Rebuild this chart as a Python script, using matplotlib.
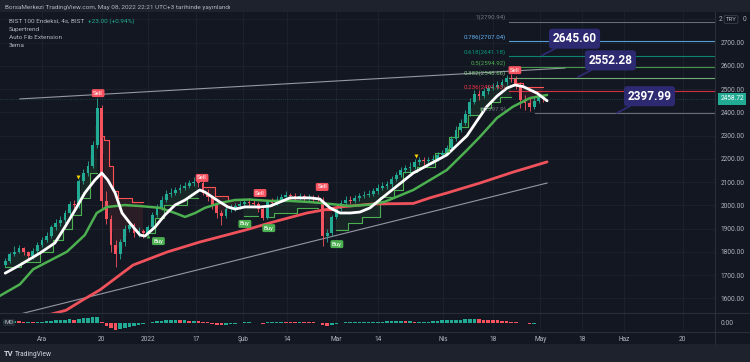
import numpy as np
import matplotlib.pyplot as plt
from matplotlib.patches import Rectangle
from matplotlib.lines import Line2D

plt.rcParams['font.family'] = ['Roboto', 'DejaVu Sans']

BG = '#131722'
PANEL = '#1e222d'
TXT = '#b2b5be'
GRID = '#1d212c'
UP = '#22ab94'
DN = '#f7525f'

# ---- data (daily bars, index 0 = 1 Dec 2021) ----
first_open = 1745
closes = [1760, 1790, 1800, 1815, 1800, 1780, 1805, 1830,
          1850, 1870, 1905, 1925, 1935, 1965, 2005, 2000, 2105, 2140,
          2170, 2260, 2420, 2020, 1940, 1830, 1790, 1840, 1900, 1915,
          1880, 1890, 1880, 1905, 1960, 1990, 2025, 2050, 2055, 2065,
          2075, 2085, 2095, 2100, 2095, 2055, 2035, 2000, 1965, 1955,
          1985, 1990, 1995, 2005, 2015, 2010, 2005, 1985, 1945, 2015,
          2010, 2025, 2035, 2045, 2040, 2035, 2040, 2030, 2035, 2030,
          2025, 1870, 1880, 1950, 1985, 2010, 2025, 2020, 2030, 2040,
          2045, 2050, 2060, 2075, 2085, 2090, 2115, 2130, 2150, 2160,
          2165, 2185, 2195, 2190, 2195, 2200, 2215, 2225, 2245, 2285,
          2325, 2355, 2395, 2445, 2480, 2470, 2490, 2505, 2510, 2520,
          2530, 2550, 2545, 2520, 2455, 2440, 2425, 2450, 2465, 2459]
highs = [1775, 1800, 1825, 1830, 1820, 1805, 1815, 1840,
         1865, 1885, 1915, 1940, 1955, 1980, 2020, 2025, 2115, 2155,
         2190, 2275, 2460, 2430, 2060, 1960, 1850, 1855, 1915, 1935,
         1925, 1905, 1900, 1915, 1970, 2005, 2040, 2065, 2075, 2080,
         2090, 2100, 2110, 2120, 2115, 2105, 2070, 2045, 2010, 1980,
         1995, 2005, 2010, 2020, 2030, 2030, 2025, 2015, 1995, 2025,
         2030, 2040, 2050, 2060, 2055, 2055, 2055, 2050, 2050, 2045,
         2045, 2035, 1900, 1960, 1995, 2025, 2040, 2040, 2045, 2055,
         2060, 2065, 2075, 2090, 2100, 2105, 2125, 2145, 2165, 2175,
         2185, 2200, 2210, 2210, 2210, 2215, 2230, 2240, 2260, 2300,
         2340, 2370, 2410, 2460, 2495, 2495, 2505, 2520, 2525, 2535,
         2545, 2560, 2565, 2555, 2530, 2475, 2460, 2465, 2480, 2475]
lows = [1735, 1750, 1780, 1795, 1785, 1765, 1770, 1795,
        1820, 1840, 1860, 1895, 1910, 1925, 1955, 1975, 1990, 2090,
        2125, 2160, 2245, 1990, 1920, 1800, 1735, 1770, 1825, 1885,
        1865, 1865, 1860, 1870, 1895, 1950, 1980, 2015, 2035, 2045,
        2055, 2065, 2075, 2085, 2080, 2045, 2020, 1985, 1945, 1915,
        1945, 1970, 1975, 1985, 1995, 1995, 1990, 1970, 1935, 1940,
        1995, 2000, 2015, 2025, 2025, 2020, 2025, 2015, 2020, 2015,
        2010, 1825, 1840, 1870, 1940, 1975, 2000, 2005, 2010, 2020,
        2030, 2035, 2040, 2050, 2065, 2070, 2080, 2105, 2120, 2140,
        2145, 2155, 2175, 2175, 2175, 2180, 2190, 2205, 2215, 2235,
        2275, 2315, 2345, 2385, 2435, 2455, 2460, 2480, 2495, 2500,
        2510, 2520, 2530, 2500, 2420, 2410, 2405, 2415, 2440, 2445]
mo = [1.5, 2, 2, 1.5, 1, 1, 0.5, 0.5,
      1, 1.5, 2, 2.5, 3, 3, 3.5, 3, 4, 4.5,
      5, 5.5, 6, 1, -3, -5, -7, -6.5, -5, -4,
      -3, -2, -1, 0, 1, 1.5, 2, 2.5, 3, 3,
      2.5, 2.5, 2, 2, 1.5, 1, 0.5, -1, -2, -2.5,
      -2, -1.5, -1, -0.5, 0.5, 0.5, 0, -0.5, -1, 0.5,
      1, 1, 1, 0.8, 0.6, 0.5, 0.5, 0.4, 0.3, 0.2,
      0, -2.5, -3.5, -2, -1, 0, 0.5, 0.8, 1, 1,
      1, 1, 1, 1, 1, 1.2, 1.2, 1.2, 1.3, 1.2,
      1.2, 1, 1, 1, 1, 1.5, 2, 2.5, 2.5, 3,
      3, 3, 3.2, 3.5, 3.5, 3.2, 3, 2.8, 2.5, 2.2,
      2, 1.5, 1, 0.5, 0, -0.5, -1, -1, -0.8, -0.5]

# 3 ema lines (bar index, price)
ema_fast_x = [-8, -4.8, -0.4, 2.8, 5.0, 7.2, 9.3, 11.5, 13.0, 14.3, 15.9, 17.4, 19.1, 21.3, 22.4,
              24.6, 26.7, 28.9, 31.1, 33.3, 34.3, 35.4, 37.0, 38.7, 40.4, 42.0, 44.1, 47.4, 49.6,
              51.7, 53.9, 58.3, 60.4, 62.6, 64.8, 67.0, 69.1, 71.3, 73.5, 80.7, 88.0, 92.4, 94.6,
              96.7, 98.9, 101.1, 102.8, 104.6, 107.6, 109.8]
ema_fast_y = [1708, 1743, 1795, 1838, 1907, 1980, 2053, 2109, 2139, 2109, 2053, 1967, 1924, 1872, 1868,
              1907, 1958, 2001, 2023, 2053, 2066, 2057, 2036, 2014, 1993, 1984, 1993, 1993, 1997,
              2014, 2032, 2032, 2027, 1989, 1967, 1967, 1971, 1989, 2025, 2139, 2217, 2300, 2365,
              2425, 2470, 2505, 2518, 2511, 2483, 2450]
ema_mid_x = [-9.2, -4.8, -1.9, 5.4, 9.3, 11.9, 14.1, 18.0, 21.3, 25.7, 28.9, 31.1, 33.3, 35.4, 38.7,
             42.0, 45.2, 49.6, 53.9, 58.3, 62.6, 67.0, 71.3, 74.6, 80.7, 88.0, 92.4, 95.2, 98.9,
             102.4, 106.1, 109.8]
ema_mid_y = [1610, 1660, 1725, 1800, 1872, 1967, 1993, 2001, 1997, 1989, 1967, 1950, 1967, 1989, 2010,
             2023, 2025, 2019, 2019, 2014, 2006, 1997, 2003, 2016, 2066, 2152, 2238, 2295, 2376,
             2425, 2462, 2475]
ema_slow_x = [0.7, 5.2, 8.9, 12.6, 19.8, 27.2, 34.3, 44.1, 50.2, 57.6, 64.8, 72.0, 80.7, 84.3, 88.0,
              95.2, 102.4, 109.8]
ema_slow_y = [1525, 1548, 1593, 1636, 1743, 1799, 1842, 1893, 1928, 1967, 1993, 2006, 2008, 2032, 2053,
              2096, 2143, 2187]

# supertrend steps: start bar, level, direction (1 up / -1 down)
st_start = [-8, -4, 0, 3, 5, 7, 9, 11, 13, 14, 15, 16, 17, 20, 23, 25, 27, 32, 35, 38, 41, 44, 48,
            49, 51, 56, 61, 64, 67, 70, 74, 77, 79, 82, 86, 89, 91, 93, 96, 98, 100, 103, 105]
st_level = [1735, 1755, 1800, 1850, 1900, 1960, 2030, 2139, 2300, 2280, 2170, 2060, 2032, 2014,
            1880, 1945, 2000, 2030, 2080, 2040, 2025, 1955, 2020, 1950, 1965, 1990, 1980, 1893, 1924,
            1950, 2036, 2066, 2143, 2165, 2225, 2294, 2337, 2389, 2419, 2445, 2466, 2526, 2510]
st_dir = [1, 1, 1, 1, 1, 1, 1, 1, -1, -1, -1, -1, -1, -1, 1, 1, 1, 1, -1, -1, -1, 1, -1,
          1, 1, 1, -1, 1, 1, 1, 1, 1, 1, 1, 1, 1, 1, 1, 1, 1, 1, -1, -1]

sell_pts = [(12.2, 2483), (34.8, 2118), (47.4, 2053), (60.9, 2079), (102.8, 2582)]
buy_pts = [(25.3, 1846), (44.1, 1920), (49.3, 1902), (64.1, 1833)]

fib_ratio = ['1', '0.786', '0.618', '0.5', '0.382', '0.236', '0']
fib_value = [2790.94, 2707.04, 2641.18, 2594.92, 2548.66, 2491.43, 2397.9]
fib_color = ['#787b86', '#64b5f6', '#089981', '#4caf50', '#81c784', '#f23645', '#787b86']

trend_x = [(-4.8, 113.7), (-4.8, 109.8)]
trend_y = [(2458, 2591), (1532, 2096)]

callout_vals = [2645.60, 2552.28, 2397.99]
callout_x = [108.7, 116.5, 125.0]

last_price = 2458.72
price_ticks = list(range(1600, 2800, 100))
date_labels = ['Ara', '20', '2022', '17', 'Şub', '14', 'Mar', '14', 'Nis', '18', 'May', '18', 'Haz', '20']
date_pos = [0, 13.0, 23.0, 33.5, 43.7, 53.3, 63.9, 73.0, 87.2, 98.0, 108.3, 117.4, 126.5, 139.3]

# ---- figure ----
W, H = 750, 362
fig = plt.figure(figsize=(7.5, 3.62), dpi=100, facecolor=PANEL)


def fx(px):
    return px / W


def fy(py):
    return 1 - py / H


fig.patches.append(Rectangle((0, fy(344)), 1, 332 / H, transform=fig.transFigure,
                             fc=BG, ec='none', zorder=-10))

ax = fig.add_axes([0, fy(313), fx(715), 301 / H])
ax2 = fig.add_axes([0, fy(332), fx(715), 19 / H])
XL = (-9.13, 146.3)
for a in (ax, ax2):
    a.set_facecolor(BG)
    a.set_xlim(*XL)
    for s in a.spines.values():
        s.set_visible(False)
    a.set_xticks(date_pos)
    a.grid(True, color=GRID, lw=0.7)
    a.set_axisbelow(True)
    a.tick_params(length=0)

ax.set_ylim(1536.5, 2832.2)
ax.set_yticks(price_ticks)
ax.set_yticklabels([f'{v:.2f}' for v in price_ticks])
ax.yaxis.tick_right()
ax.tick_params(axis='y', labelsize=4.7, labelcolor=TXT, pad=4)
ax.tick_params(axis='x', labelbottom=False)
ax.axhline(2800, color=GRID, lw=0.7, zorder=0)

# separators
for y in (313, 332):
    fig.add_artist(Line2D([0, 1], [fy(y), fy(y)], color='#2a2e39', lw=0.8))
fig.add_artist(Line2D([fx(715), fx(715)], [fy(344), fy(12)], color='#2a2e39', lw=0.8))

bars = np.arange(-8, 110)
c = np.array(closes, float)
o = np.concatenate([[first_open], c[:-1]])
h = np.array(highs, float)
l = np.array(lows, float)
col = np.where(c >= o, UP, DN)

# trend lines
for tx, ty in zip(trend_x, trend_y):
    ax.plot(tx, ty, color='#9598a1', lw=0.8, zorder=2)

# last price line
ax.axhline(last_price, color=UP, lw=0.6, ls=':', alpha=0.4, zorder=1)

# supertrend
sidx = np.searchsorted(st_start, bars, side='right') - 1
st_b = np.array(st_level, float)[sidx]
dir_b = np.array(st_dir)[sidx]
mid = (o + c) / 2
breaks = np.where(np.diff(dir_b) != 0)[0] + 1
for run in np.split(np.arange(len(bars)), breaks):
    d = dir_b[run[0]]
    cc = '#4caf50' if d > 0 else '#ff5252'
    ax.plot(bars[run], st_b[run], drawstyle='steps-mid', color=cc, lw=0.8, zorder=3)
    ax.fill_between(bars[run], st_b[run], mid[run], step='mid', color=cc, alpha=0.1, lw=0, zorder=1)

# candles
ax.vlines(bars, l, h, colors=col, lw=0.6, zorder=4)
ax.bar(bars, np.maximum(np.abs(c - o), 3), bottom=np.minimum(o, c), width=0.62, color=col,
       lw=0, zorder=4)

# ema lines
ax.plot(ema_slow_x, ema_slow_y, color='#f0525c', lw=2, zorder=5, solid_capstyle='round')
ax.plot(ema_mid_x, ema_mid_y, color='#4caf50', lw=1.8, zorder=5, solid_capstyle='round')
ax.plot(ema_fast_x, ema_fast_y, color='white', lw=2, zorder=6, solid_capstyle='round')

# small markers
ax.scatter([7.8, 81.3], [2122, 2212], marker='v', s=8, color='#ffd600', lw=0, zorder=6)
ax.scatter([23.0, 88.3], [1868, 2238], marker='^', s=8, color='#4caf50', lw=0, zorder=6)

# buy / sell labels
for xi, p in sell_pts:
    ax.text(xi, p, 'Sell', fontsize=4.3, color='white', ha='center', va='center', zorder=8,
            bbox=dict(boxstyle='round,pad=0.25', fc='#f7525f', ec='none'))
for xi, p in buy_pts:
    ax.text(xi, p, 'Buy', fontsize=4.3, color='white', ha='center', va='center', zorder=8,
            bbox=dict(boxstyle='round,pad=0.25', fc='#4caf50', ec='none'))

# auto fib extension
for r, v, fc in zip(fib_ratio, fib_value, fib_color):
    x0 = 107.2 if r == '0' else 101.5
    ax.plot([x0, XL[1]], [v, v], color=fc, lw=0.8, alpha=0.85, zorder=2)
    ax.annotate(f'{r}({v:g})', xy=(100.9, v), xytext=(0, 1), textcoords='offset points',
                ha='right', va='bottom', fontsize=4.4, color=fc, zorder=7)

# callouts
for v, xi in zip(callout_vals, callout_x):
    ax.annotate(f'{v:.2f}', xy=(xi, v), xytext=(23.4, 12), textcoords='offset points',
                ha='center', va='center', fontsize=8.5, fontweight='bold', color='white',
                bbox=dict(boxstyle='round,pad=0.3', fc='#2e2a72', ec='none'),
                arrowprops=dict(arrowstyle='-', color='#2e2a72', lw=1.3, shrinkA=0, shrinkB=0),
                zorder=9, annotation_clip=False)

# right-axis tags
ax.annotate(f'{last_price:.2f}', xy=(1, last_price), xycoords=('axes fraction', 'data'),
            xytext=(4, 0), textcoords='offset points', ha='left', va='center', fontsize=4.7,
            color='white', annotation_clip=False,
            bbox=dict(boxstyle='square,pad=0.35', fc=UP, ec='none'))
# top price label half hidden by the currency tag: "2 TRY 0"
fig.text(fx(719), fy(19.5), '2', fontsize=4.7, color=TXT, va='center', ha='left')
fig.text(fx(731), fy(19.5), 'TRY', fontsize=4.3, color=TXT, va='center', ha='center',
         bbox=dict(boxstyle='round,pad=0.25', fc=BG, ec='#434651', lw=0.5))
fig.text(fx(743), fy(19.5), '0', fontsize=4.7, color=TXT, va='center', ha='left')

# momentum pane
ax2.set_ylim(-9.5, 9.5)
mo_a = np.array(mo, float)
mo_col = np.where(np.diff(np.concatenate([[mo_a[0]], mo_a])) >= 0, UP, DN)
ax2.bar(bars, mo_a, width=0.75, color=mo_col, lw=0)
ax2.set_yticks([0])
ax2.set_yticklabels(['0.00'])
ax2.yaxis.tick_right()
ax2.tick_params(axis='y', labelsize=4.7, labelcolor=TXT, pad=4)
ax2.set_xticklabels(date_labels)
ax2.tick_params(axis='x', labelsize=4.7, labelcolor=TXT, pad=3)
ax2.grid(False, axis='y')
ax2.text(-8.2, 0, 'MO', fontsize=4.3, color=TXT, va='center', ha='left', zorder=5,
         bbox=dict(boxstyle='square,pad=0.2', fc='#2a2e39', ec='none', alpha=0.8))

# header, legend, footer
fig.text(fx(5), fy(7), 'BorsaMerkezi TradingView.com, May 08, 2022 22:21 UTC+3 tarihinde yayınlandı',
         fontsize=4.6, color=TXT, va='center')
fig.text(fx(9), fy(20.7), 'BIST 100 Endeksi, 4s, BIST', fontsize=4.6, color=TXT, va='center')
fig.text(fx(88), fy(20.7), '+23.00 (+0.94%)', fontsize=4.6, color=UP, va='center')
for txt, y in zip(['Supertrend', 'Auto Fib Extension', '3ema'], [29, 37.3, 45.7]):
    fig.text(fx(9), fy(y), txt, fontsize=4.6, color=TXT, va='center')
fig.text(fx(4), fy(354), 'TV', fontsize=5.5, fontweight='bold', color='#d1d4dc', va='center')
fig.text(fx(15), fy(354), 'TradingView', fontsize=4.8, color='#d1d4dc', va='center')

fig.savefig('out.png', dpi=100, facecolor=fig.get_facecolor())
